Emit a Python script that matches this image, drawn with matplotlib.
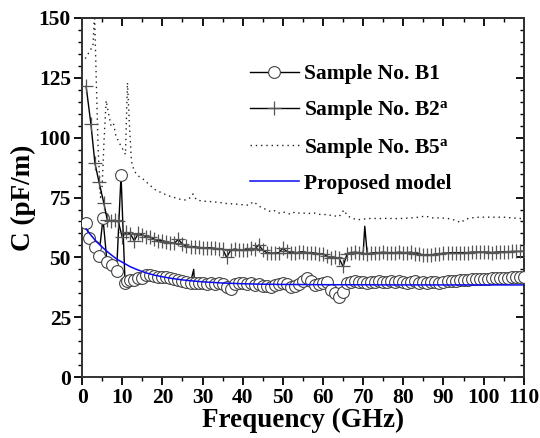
import numpy as np
import matplotlib
matplotlib.use("Agg")
import matplotlib.pyplot as plt
from matplotlib.ticker import MultipleLocator

plt.rcParams['font.family'] = ['Liberation Serif', 'DejaVu Serif']
plt.rcParams['font.weight'] = 'bold'
plt.rcParams['mathtext.fontset'] = 'custom'
plt.rcParams['mathtext.rm'] = 'Liberation Serif:bold'
plt.rcParams['mathtext.bf'] = 'Liberation Serif:bold'
plt.rcParams['mathtext.it'] = 'Liberation Serif:bold'
plt.rcParams['mathtext.default'] = 'rm'

# ---- measured capacitance, sample B1 ----
b1_freq = np.concatenate([
    [1.0, 1.8, 3.1, 4.2, 5.2, 6.2, 7.4, 8.6, 9.7, 10.7, 11.3],
    np.arange(12, 28), [27.8], np.arange(28, 111)])
b1_cap = [64.5, 58.0, 54.5, 50.6, 66.3, 48.2, 46.8, 44.4, 84.3, 39.4, 40.0,
          40.5, 40.5, 41.2, 41.5, 42.6, 42.6, 42.3, 42.0, 42.0, 41.8, 41.5, 40.8,
          40.5, 40.0, 39.8, 39.5,
          45.0,
          39.2, 39.2, 39.2, 39.0, 39.2, 39.0, 39.2, 38.8, 37.5, 37.0, 38.8, 39.2,
          39.5, 39.0, 39.2, 38.5, 38.8, 38.2, 38.0, 37.7, 38.5, 38.8, 39.5, 38.8,
          37.8, 38.0, 39.0, 40.0, 41.2, 40.2, 38.5, 38.8, 39.5, 39.8, 36.5, 35.0,
          33.5, 35.5, 39.5, 39.8, 40.0, 39.8, 39.8, 39.5, 39.8, 39.8, 40.0, 39.8,
          39.8, 40.0, 39.8, 40.0, 39.8, 39.5, 39.8, 40.0, 39.5, 39.8, 39.5, 39.8,
          39.8, 39.5, 39.8, 40.0, 40.2, 40.2, 40.5, 40.5, 40.5, 40.8, 40.8, 41.0,
          41.0, 41.0, 41.2, 41.2, 41.5, 41.5, 41.5, 41.8, 41.8, 42.0, 42.0]
b1_spike = [27]  # index of the point drawn without a marker

# ---- measured capacitance, sample B2 ----
b2_freq = np.concatenate([
    [1.0, 2.2, 3.2, 4.2, 5.4, 6.3, 7.2, 8.1, 9.0],
    np.arange(10, 71), [70.4], np.arange(71, 111)])
b2_cap = [121.5, 105.7, 89.3, 81.6, 72.8, 65.5, 65.3, 65.5, 65.0,
          58.5, 60.5, 59.8, 57.0, 60.0, 59.5, 58.5, 58.5, 57.5, 57.0, 57.0, 56.5,
          56.0, 56.0, 57.5, 55.5, 54.8, 54.5, 54.5, 54.2, 54.0, 54.0, 54.0, 53.8,
          53.5, 53.5, 50.0, 53.0, 53.5, 53.2, 53.0, 53.2, 53.8, 53.5, 55.2, 53.0,
          52.0, 51.8, 51.8, 52.0, 53.8, 52.5, 52.0, 51.7, 52.2, 52.4, 52.0, 52.0,
          51.8, 51.5, 51.5, 50.5, 49.6, 50.0, 49.6, 46.2, 51.5, 52.0, 52.2, 52.0,
          51.8,
          63.0,
          51.5, 51.8, 52.0, 52.0, 52.2, 52.0, 52.0, 52.0, 52.2, 52.0, 52.0, 52.2,
          51.5, 51.5, 51.0, 51.2, 51.0, 51.5, 51.5, 51.8, 51.8, 52.0, 52.0, 52.0,
          52.0, 52.0, 52.2, 52.2, 52.2, 52.2, 52.2, 52.0, 52.2, 52.3, 52.3, 52.3,
          52.5, 52.5, 52.5, 52.6]
b2_spike = [70]

# ---- measured capacitance, sample B5 ----
b5_freq = [0.8, 1.5, 2.2, 2.7, 3.1, 3.6, 4.0, 4.6, 5.0, 5.5, 6.0, 6.6, 7.2, 7.8,
           8.4, 9.2, 10.2, 10.8, 11.3, 11.8, 12.3, 13, 14, 15, 16, 17, 18, 19,
           20, 21, 22, 23, 24, 25, 26, 27, 27.6, 28.5, 30, 32, 34, 36, 38, 40,
           41.5, 42.7, 44, 45, 46, 47, 48, 49, 50, 51, 52, 53, 54, 55, 56, 57,
           58, 59, 60, 61, 62, 63, 64, 65.2, 66, 67, 68.5, 70, 72, 74, 76, 78,
           80, 82, 84, 85.5, 87, 89, 91, 93, 94.3, 95.5, 97, 99, 101, 103, 105,
           107, 109, 110]
b5_cap = [133, 135, 137, 138, 152, 120, 95, 75, 80, 100, 115.5, 110, 105, 106,
          101, 98, 95, 93, 123, 105, 90, 86, 84, 83, 81.5, 80, 78.5, 77.5,
          77, 76, 75.5, 75, 74.5, 74, 74, 75, 76.5, 74, 73.5, 73.3, 73, 72.5,
          72.3, 72, 71.8, 73.3, 71.5, 70.5, 70, 69, 69.5, 68.5, 69, 68.5, 68,
          69, 68.5, 68.5, 68.5, 68.3, 68.5, 68, 67.8, 68, 67.5, 67.3, 67, 69.8,
          67.5, 66.5, 65.7, 66, 66.3, 66.2, 66.3, 66.2, 66.3, 66.5, 66.8, 67.3,
          66.5, 66.5, 66.3, 65.5, 64.5, 66, 66.5, 66.8, 66.8, 66.8, 66.8, 66.5,
          66.3, 66.0]

# ---- proposed model ----
model_freq = [1, 2, 3, 4, 5, 6, 7, 8, 9, 10, 12, 14, 16, 18, 20, 22, 25, 28, 30,
              35, 40, 45, 50, 60, 70, 80, 90, 100, 110]
model_cap = [61.9, 59.7, 57.7, 55.9, 54.3, 52.8, 51.4, 50.1, 48.9, 48.0, 46.1,
             44.7, 43.5, 42.6, 41.9, 41.3, 40.6, 40.1, 39.8, 39.3, 39.0, 38.8,
             38.7, 38.6, 38.55, 38.5, 38.5, 38.5, 38.5]

x_ticks = [0, 10, 20, 30, 40, 50, 60, 70, 80, 90, 100, 110]
y_ticks = [0, 25, 50, 75, 100, 125, 150]

fig = plt.figure(figsize=(5.4, 4.38), dpi=100)
ax = fig.add_axes([0.152, 0.139, 0.818, 0.820])

b1_marks = [i for i in range(len(b1_freq)) if i not in b1_spike]
b2_marks = [i for i in range(len(b2_freq)) if i not in b2_spike]

ax.plot(b1_freq, b1_cap, color='black', lw=1.0, marker='o', ms=8.5,
        mfc='white', mec='#444444', mew=0.8, markevery=b1_marks,
        label='Sample No. B1', zorder=3)
ax.plot(b2_freq, b2_cap, color='black', lw=1.0, marker='+', ms=9.5,
        mec='#555555', mew=0.9, markevery=b2_marks,
        label='Sample No. B2$^{a}$', zorder=3)
ax.plot(b5_freq, b5_cap, color='#222222', lw=1.0, ls=(0, (1, 2.8)),
        label='Sample No. B5$^{a}$', zorder=2)
ax.plot(model_freq, model_cap, color='#0a0af0', lw=1.1,
        label='Proposed model', zorder=4)

ax.set_xlim(0, 110)
ax.set_ylim(0, 150)
ax.set_xticks(x_ticks)
ax.set_yticks(y_ticks)
ax.xaxis.set_minor_locator(MultipleLocator(5))
ax.yaxis.set_minor_locator(MultipleLocator(5))
ax.tick_params(which='major', direction='out', length=6, width=1.3,
               labelsize=15.5, pad=2)
ax.tick_params(which='minor', direction='out', length=3, width=1.0)
for lab in ax.get_xticklabels() + ax.get_yticklabels():
    lab.set_fontweight('bold')

# mirrored inward ticks on the top and right frame
top = ax.secondary_xaxis('top')
top.set_xticks(x_ticks)
top.xaxis.set_minor_locator(MultipleLocator(5))
top.tick_params(which='major', direction='in', length=6, width=1.3, labeltop=False)
top.tick_params(which='minor', direction='in', length=3, width=1.0)
right = ax.secondary_yaxis('right')
right.set_yticks(y_ticks)
right.yaxis.set_minor_locator(MultipleLocator(5))
right.tick_params(which='major', direction='in', length=6, width=1.3, labelright=False)
right.tick_params(which='minor', direction='in', length=3, width=1.0)

for sp in list(ax.spines.values()):
    sp.set_linewidth(1.4)
    sp.set_color('#333333')
top.spines['top'].set_linewidth(1.4)
right.spines['right'].set_linewidth(1.4)

ax.set_xlabel('Frequency (GHz)', fontsize=19.5, fontweight='bold', labelpad=0)
ax.set_ylabel('C (pF/m)', fontsize=19.5, fontweight='bold', labelpad=2)

leg = ax.legend(loc='upper left', bbox_to_anchor=(0.361, 0.895), frameon=False,
                fontsize=15.5, handlelength=2.25, handletextpad=0.25,
                labelspacing=0.64, borderaxespad=0)
for t in leg.get_texts():
    t.set_fontweight('bold')

fig.savefig('out.png', dpi=100)
